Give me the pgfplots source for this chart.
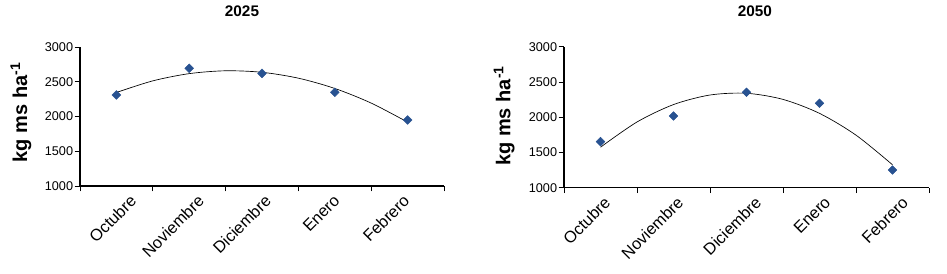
\documentclass[border=0pt]{standalone}
\usepackage{fontspec}
\setmainfont{Liberation Sans}
\usepackage{pgfplots}
\pgfplotsset{compat=1.18}
\definecolor{mk}{RGB}{40,82,145}
\pgfplotsset{
  excel/.style={
    scale only axis,
    axis x line=bottom, axis y line=left,
    axis line style={-, black, line width=0.8pt},
    xmin=0.5, xmax=5.5, ymin=1000, ymax=3000,
    ytick={1000,1500,...,3000},
    xtick={0.5,1.5,2.5,3.5,4.5,5.5},
    xticklabels={},
    extra x tick labels={Octubre,Noviembre,Diciembre,Enero,Febrero},
    extra x tick style={major tick length=0pt},
    tick align=outside, major tick length=4pt,
    tick style={black, line width=0.6pt},
    /pgf/number format/assume math mode=true,
    /pgf/number format/1000 sep={},
    yticklabel style={font=\fontsize{9.5}{11}\selectfont, inner sep=1pt},
    xticklabel style={font=\fontsize{12.3}{14}\selectfont, rotate=45, anchor=north east, inner sep=0pt, yshift=-8pt},
    ylabel style={font=\fontsize{15}{17}\selectfont\bfseries, rotate=0, anchor=center},
    clip=false,
  },
  dia/.style={only marks, mark=square*, mark size=2.3pt, mk, mark options={rotate=45, fill=mk, draw=mk}},
}
\begin{document}
\begin{tikzpicture}
\path[use as bounding box] (0,0) rectangle (710.25pt,204.75pt);
\begin{axis}[excel,
  at={(60pt,65.25pt)}, anchor=south west,
  width=273pt, height=104.25pt,
  extra x ticks={1.07,2.0,2.92,3.865,4.82},
  ylabel={kg ms ha\textsuperscript{-1}},
  ylabel style={at={(axis description cs:-0.162,0.53)}},
  title={\bfseries 2025}, title style={font=\fontsize{11.5}{13}\selectfont\bfseries, at={(axis description cs:0.445,1.2)}, anchor=center},
]
\addplot[black, line width=0.5pt, smooth, no marks] coordinates {
(1,2345.8) (1.5,2512.8) (2,2616.9) (2.5,2658.0) (3,2636.2) (3.5,2551.4) (4,2403.7) (4.5,2193.0) (5,1919.0)};
\addplot[dia] coordinates {
(1,2310) (2,2694) (3,2620) (4,2348) (5,1950)};
\end{axis}
\begin{axis}[excel,
  at={(423pt,64pt)}, anchor=south west,
  width=273.75pt, height=105.75pt,
  extra x ticks={0.93,1.93,3.0,3.95,5.01},
  ylabel={kg ms ha\textsuperscript{-1}},
  ylabel style={at={(axis description cs:-0.164,0.51)}},
  title={\bfseries 2050}, title style={font=\fontsize{11.5}{13}\selectfont\bfseries, at={(axis description cs:0.523,1.196)}, anchor=center},
]
\addplot[black, line width=0.5pt, smooth, no marks] coordinates {
(1,1573.6) (1.5,1931.7) (2,2178.6) (2.5,2314.3) (3,2338.8) (3.5,2252.1) (4,2054.2) (4.5,1745.1) (5,1324.8)};
\addplot[dia] coordinates {
(1,1652) (2,2017) (3,2353) (4,2197) (5,1251)};
\end{axis}
\end{tikzpicture}
\end{document}
